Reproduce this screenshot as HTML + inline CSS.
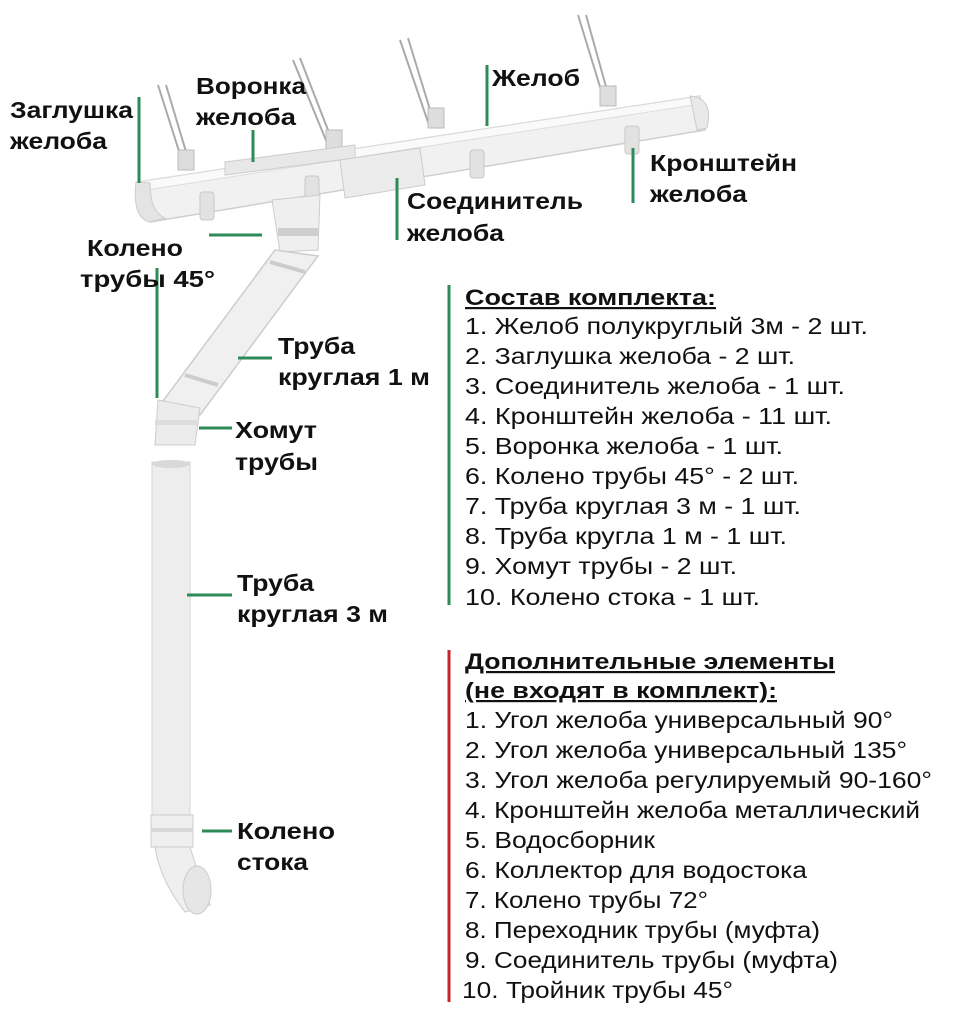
<!DOCTYPE html>
<html><head><meta charset="utf-8"><style>
html,body{margin:0;padding:0;background:#fff;}
svg{display:block;}
.l{font-family:"Liberation Sans",sans-serif;font-weight:bold;font-size:23px;fill:#111;}
.h{font-family:"Liberation Sans",sans-serif;font-weight:bold;font-size:22px;fill:#111;text-decoration:underline;}
.t{font-family:"Liberation Sans",sans-serif;font-size:23px;fill:#111;}
</style></head><body>
<svg width="960" height="1020" viewBox="0 0 960 1020" xmlns="http://www.w3.org/2000/svg">
<rect width="960" height="1020" fill="#fff"/>
<!-- brackets -->
<g stroke="#aaa" stroke-width="2" fill="none">
<line x1="158" y1="85" x2="185" y2="170"/><line x1="166" y1="85" x2="190" y2="165"/>
<line x1="293" y1="60" x2="330" y2="150"/><line x1="300" y1="58" x2="335" y2="148"/>
<line x1="400" y1="40" x2="430" y2="128"/><line x1="408" y1="38" x2="435" y2="126"/>
<line x1="578" y1="15" x2="605" y2="103"/><line x1="586" y1="15" x2="610" y2="101"/>
</g>
<g fill="#ddd" stroke="#bbb">
<rect x="178" y="150" width="16" height="20"/><rect x="326" y="130" width="16" height="20"/>
<rect x="428" y="108" width="16" height="20"/><rect x="600" y="86" width="16" height="20"/>
</g>
<!-- gutter -->
<polygon points="138,182 700,96 705,130 150,222" fill="#f1f1f1" stroke="#cfcfcf" stroke-width="1.5"/>
<polygon points="138,182 700,96 700,104 140,191" fill="#fafafa" stroke="#ddd"/>
<path d="M136,182 Q132,218 150,222 L165,218 Q150,212 150,183 Z" fill="#e4e4e4" stroke="#ccc"/>
<path d="M690,96 Q714,98 707,128 L697,130 Z" fill="#e9e9e9" stroke="#ccc"/>
<polygon points="225,162 355,145 355,158 225,175" fill="#e8e8e8" stroke="#ccc"/>
<polygon points="340,160 420,148 425,185 345,198" fill="#ececec" stroke="#ccc"/>
<g fill="#e2e2e2" stroke="#c8c8c8">
<rect x="200" y="192" width="14" height="28" rx="3"/><rect x="305" y="176" width="14" height="28" rx="3"/>
<rect x="470" y="150" width="14" height="28" rx="3"/><rect x="625" y="126" width="14" height="28" rx="3"/>
</g>
<!-- outlet -->
<path d="M272,200 L320,195 L318,250 L280,252 Z" fill="#efefef" stroke="#ccc"/>
<rect x="278" y="228" width="40" height="8" fill="#cfcfcf"/>
<!-- diagonal pipe -->
<polygon points="275,250 318,256 200,415 160,405" fill="#f0f0f0" stroke="#ccc" stroke-width="1.5"/>
<line x1="270" y1="262" x2="305" y2="272" stroke="#ccc" stroke-width="4"/>
<line x1="185" y1="375" x2="218" y2="385" stroke="#ccc" stroke-width="4"/>
<path d="M158,400 L200,408 L195,445 L155,445 Z" fill="#ececec" stroke="#ccc"/>
<rect x="155" y="420" width="42" height="5" fill="#ddd"/>
<!-- downpipe -->
<rect x="152" y="462" width="38" height="376" fill="#ededed" stroke="#d6d6d6"/>
<ellipse cx="171" cy="464" rx="19" ry="4" fill="#d8d8d8"/>
<rect x="151" y="815" width="42" height="32" fill="#efefef" stroke="#ccc"/>
<rect x="151" y="828" width="42" height="4" fill="#d8d8d8"/>
<path d="M155,847 L190,847 Q200,880 210,905 L185,912 Q160,880 155,847 Z" fill="#efefef" stroke="#ccc"/>
<ellipse cx="197" cy="890" rx="14" ry="24" fill="#e6e6e6" stroke="#ccc"/>
<!-- leader lines -->
<g stroke="#2e8b57" stroke-width="3" fill="none">
<line x1="139" y1="97" x2="139" y2="183"/>
<line x1="253" y1="130" x2="253" y2="162"/>
<line x1="209" y1="235" x2="262" y2="235"/>
<line x1="157" y1="268" x2="157" y2="398"/>
<line x1="487" y1="65" x2="487" y2="126"/>
<line x1="633" y1="148" x2="633" y2="203"/>
<line x1="397" y1="178" x2="397" y2="240"/>
<line x1="238" y1="358" x2="272" y2="358"/>
<line x1="199" y1="428" x2="232" y2="428"/>
<line x1="187" y1="595" x2="232" y2="595"/>
<line x1="202" y1="831" x2="232" y2="831"/>
<line x1="449" y1="285" x2="449" y2="605"/>
</g>
<line x1="449" y1="650" x2="449" y2="1002" stroke="#c0282d" stroke-width="3"/>
<!-- labels -->
<text class="l" x="10" y="118" textLength="123" lengthAdjust="spacingAndGlyphs">Заглушка</text>
<text class="l" x="10" y="149" textLength="97" lengthAdjust="spacingAndGlyphs">желоба</text>
<text class="l" x="196" y="94" textLength="110" lengthAdjust="spacingAndGlyphs">Воронка</text>
<text class="l" x="196" y="125" textLength="100" lengthAdjust="spacingAndGlyphs">желоба</text>
<text class="l" x="492" y="86" textLength="88" lengthAdjust="spacingAndGlyphs">Желоб</text>
<text class="l" x="650" y="171" textLength="147" lengthAdjust="spacingAndGlyphs">Кронштейн</text>
<text class="l" x="650" y="202" textLength="97" lengthAdjust="spacingAndGlyphs">желоба</text>
<text class="l" x="407" y="209" textLength="176" lengthAdjust="spacingAndGlyphs">Соединитель</text>
<text class="l" x="407" y="241" textLength="97" lengthAdjust="spacingAndGlyphs">желоба</text>
<text class="l" x="87" y="256" textLength="96" lengthAdjust="spacingAndGlyphs">Колено</text>
<text class="l" x="80" y="287" textLength="135" lengthAdjust="spacingAndGlyphs">трубы 45°</text>
<text class="l" x="278" y="354" textLength="77" lengthAdjust="spacingAndGlyphs">Труба</text>
<text class="l" x="278" y="385" textLength="152" lengthAdjust="spacingAndGlyphs">круглая 1 м</text>
<text class="l" x="235" y="438" textLength="82" lengthAdjust="spacingAndGlyphs">Хомут</text>
<text class="l" x="235" y="470" textLength="83" lengthAdjust="spacingAndGlyphs">трубы</text>
<text class="l" x="237" y="591" textLength="77" lengthAdjust="spacingAndGlyphs">Труба</text>
<text class="l" x="237" y="622" textLength="151" lengthAdjust="spacingAndGlyphs">круглая 3 м</text>
<text class="l" x="237" y="839" textLength="98" lengthAdjust="spacingAndGlyphs">Колено</text>
<text class="l" x="237" y="870" textLength="71" lengthAdjust="spacingAndGlyphs">стока</text>
<!-- list 1 -->
<text class="h" x="465" y="305" textLength="251" lengthAdjust="spacingAndGlyphs">Состав комплекта:</text>
<g class="t">
<text x="465" y="334" textLength="403" lengthAdjust="spacingAndGlyphs">1. Желоб полукруглый 3м - 2 шт.</text>
<text x="465" y="364" textLength="330" lengthAdjust="spacingAndGlyphs">2. Заглушка желоба - 2 шт.</text>
<text x="465" y="394" textLength="380" lengthAdjust="spacingAndGlyphs">3. Соединитель желоба - 1 шт.</text>
<text x="465" y="424" textLength="367" lengthAdjust="spacingAndGlyphs">4. Кронштейн желоба - 11 шт.</text>
<text x="465" y="454" textLength="318" lengthAdjust="spacingAndGlyphs">5. Воронка желоба - 1 шт.</text>
<text x="465" y="484" textLength="334" lengthAdjust="spacingAndGlyphs">6. Колено трубы 45° - 2 шт.</text>
<text x="465" y="514" textLength="336" lengthAdjust="spacingAndGlyphs">7. Труба круглая 3 м - 1 шт.</text>
<text x="465" y="544" textLength="322" lengthAdjust="spacingAndGlyphs">8. Труба кругла 1 м - 1 шт.</text>
<text x="465" y="574" textLength="272" lengthAdjust="spacingAndGlyphs">9. Хомут трубы - 2 шт.</text>
<text x="465" y="605" textLength="295" lengthAdjust="spacingAndGlyphs">10. Колено стока - 1 шт.</text>
</g>
<!-- list 2 -->
<text class="h" x="465" y="669" textLength="370" lengthAdjust="spacingAndGlyphs">Дополнительные элементы</text>
<text class="h" x="465" y="698" textLength="312" lengthAdjust="spacingAndGlyphs">(не входят в комплект):</text>
<g class="t">
<text x="465" y="728" textLength="428" lengthAdjust="spacingAndGlyphs">1. Угол желоба универсальный 90°</text>
<text x="465" y="758" textLength="442" lengthAdjust="spacingAndGlyphs">2. Угол желоба универсальный 135°</text>
<text x="465" y="788" textLength="467" lengthAdjust="spacingAndGlyphs">3. Угол желоба регулируемый 90-160°</text>
<text x="465" y="818" textLength="455" lengthAdjust="spacingAndGlyphs">4. Кронштейн желоба металлический</text>
<text x="465" y="848" textLength="190" lengthAdjust="spacingAndGlyphs">5. Водосборник</text>
<text x="465" y="878" textLength="342" lengthAdjust="spacingAndGlyphs">6. Коллектор для водостока</text>
<text x="465" y="908" textLength="243" lengthAdjust="spacingAndGlyphs">7. Колено трубы 72°</text>
<text x="465" y="938" textLength="355" lengthAdjust="spacingAndGlyphs">8. Переходник трубы (муфта)</text>
<text x="465" y="968" textLength="373" lengthAdjust="spacingAndGlyphs">9. Соединитель трубы (муфта)</text>
<text x="462" y="998" textLength="271" lengthAdjust="spacingAndGlyphs">10. Тройник трубы 45°</text>
</g>
</svg>
</body></html>
